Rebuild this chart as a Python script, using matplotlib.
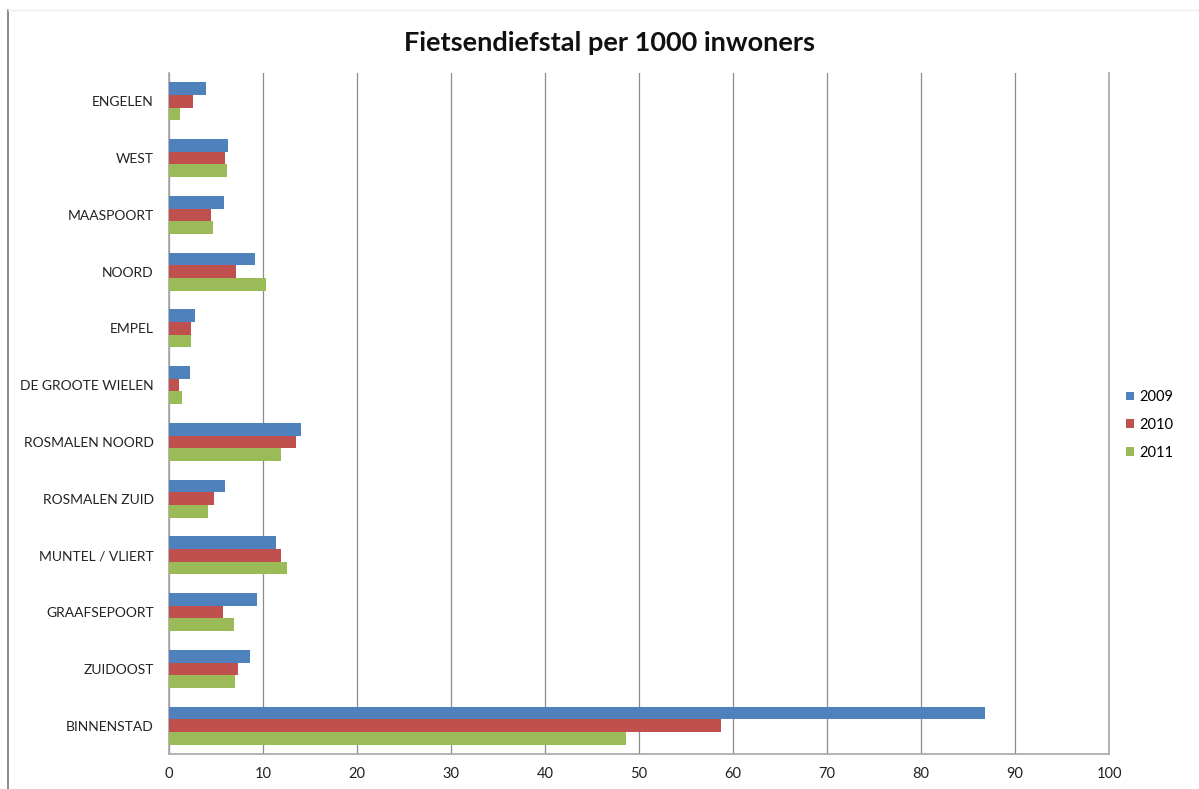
import matplotlib
matplotlib.use("Agg")
import matplotlib.pyplot as plt
from matplotlib.patches import Patch
from matplotlib.lines import Line2D
import numpy as np

plt.rcParams['font.family'] = ['Lato', 'DejaVu Sans']

# ------ data -------------------------------
wijken = ["ENGELEN", "WEST", "MAASPOORT", "NOORD", "EMPEL", "DE GROOTE WIELEN",
          "ROSMALEN NOORD", "ROSMALEN ZUID", "MUNTEL / VLIERT", "GRAAFSEPOORT",
          "ZUIDOOST", "BINNENSTAD"]
jaren = ["2009", "2010", "2011"]
v2009 = [3.9, 6.3, 5.9, 9.2, 2.8, 2.2, 14.0, 6.0, 11.4, 9.4, 8.6, 86.8]
v2010 = [2.6, 6.0, 4.5, 7.1, 2.3, 1.1, 13.5, 4.75, 11.95, 5.75, 7.35, 58.7]
v2011 = [1.2, 6.2, 4.7, 10.3, 2.3, 1.4, 11.95, 4.2, 12.5, 6.9, 7.0, 48.65]
kleuren = ["#4F81BD", "#C0504D", "#9BBB59"]

fig = plt.figure(figsize=(11.99, 7.89), dpi=100)
ax = fig.add_axes([169/1199, 1-754/789, (1109-169)/1199, (754-73)/789])

y = np.arange(len(wijken))
h = 1/4.5  # excel gap width 150%
for i, (vals, kl) in enumerate(zip([v2009, v2010, v2011], kleuren)):
	ax.barh(y + (i-1)*h, vals, height=h, color=kl, zorder=3)

ax.set_ylim(len(wijken)-0.5, -0.5)
ax.set_xlim(0, 100)
ax.set_xticks(range(0, 101, 10))
ax.set_yticks(y)
ax.set_yticklabels(wijken)
ax.tick_params(length=0, labelsize=10.5, colors='#222222')
ax.tick_params(axis='y', labelsize=10, pad=11)
ax.tick_params(axis='x', pad=9)
ax.grid(axis='x', color='#8c8c8c', linewidth=0.9, zorder=0)
ax.spines['top'].set_visible(False)
for s in ['left', 'bottom', 'right']:
	ax.spines[s].set_color('#a6a6a6')
	ax.spines[s].set_linewidth(1.2)

fig.suptitle("Fietsendiefstal per 1000 inwoners", x=610/1199, y=1-43/789,
             va='center', fontsize=19.5, fontweight='bold', color='#111111')

handles = [Patch(facecolor=k, edgecolor='none') for k in kleuren]
fig.legend(handles, jaren, loc='center left', bbox_to_anchor=(1113/1199, 1-425/789),
           frameon=False, fontsize=10.5, handlelength=0.55, handleheight=0.55,
           handletextpad=0.35, labelspacing=0.95)

# chart frame line on the left
fig.add_artist(Line2D([8/1199, 8/1199], [0, 1-10/789], color='#777777', linewidth=1.2))
fig.add_artist(Line2D([8/1199, 1], [1-10/789, 1-10/789], color='#eeeeee', linewidth=1))

plt.savefig('out.png', dpi=100)
